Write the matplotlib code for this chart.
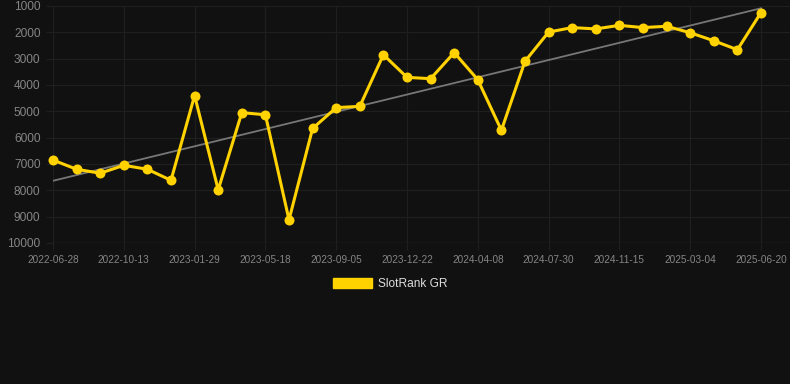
import matplotlib
matplotlib.use("Agg")
import matplotlib.pyplot as plt
import matplotlib.patches as mpatches
import numpy as np

# SlotRank GR position over time (lower is better, axis inverted)
ranks = [6850, 7200, 7350, 7050, 7200, 7620, 4400, 7980, 5050, 5130,
         9120, 5650, 4860, 4810, 2850, 3710, 3760, 2770, 3800, 5720,
         3100, 1990, 1820, 1870, 1735, 1820, 1770, 2015, 2320, 2660, 1250]
# only every third date is labelled on the axis
tick_labels = ["2022-06-28", "2022-10-13", "2023-01-29", "2023-05-18",
               "2023-09-05", "2023-12-22", "2024-04-08", "2024-07-30",
               "2024-11-15", "2025-03-04", "2025-06-20"]
y_ticks = [1000, 2000, 3000, 4000, 5000, 6000, 7000, 8000, 9000, 10000]

bg = "#111111"
grid_col = "#1f1f1f"
yellow = "#FFD200"

plt.rcParams['font.family'] = ['Liberation Sans', 'DejaVu Sans']

fig = plt.figure(figsize=(7.9, 3.84), dpi=100, facecolor=bg)
ax = fig.add_axes([53 / 790, 1 - 243 / 384, 1 - 53 / 790, (243 - 6) / 384])
ax.set_facecolor(bg)

x = np.arange(len(ranks))

# linear trend
k, b = np.polyfit(x, ranks, 1)
ax.plot(x[[0, -1]], k * x[[0, -1]] + b, color="#777777", lw=1.3, zorder=2)

ax.plot(x, ranks, color=yellow, lw=2.2, marker="o", markersize=7.2,
        markeredgewidth=0, zorder=3, clip_on=False)

ax.set_ylim(10000, 1000)
ax.set_yticks(y_ticks)
ax.set_yticklabels([str(v) for v in y_ticks])
ax.set_xlim(0, 30 + 29 / 23.6)
ax.set_xticks(x[::3])
ax.set_xticklabels(tick_labels)

ax.grid(True, color=grid_col, lw=0.9)
ax.set_axisbelow(True)
for s in ax.spines.values():
    s.set_visible(False)
ax.tick_params(axis="y", colors=grid_col, length=5, width=0.9, labelcolor="#858585",
               labelsize=8.6, pad=4)
ax.tick_params(axis="x", colors=grid_col, length=5, width=0.9, labelcolor="#858585",
               labelsize=7.2, pad=3.5)
ax.axhline(10000, color="#282828", lw=1.0, zorder=1)

handle = mpatches.Patch(color=yellow, label="SlotRank GR")
fig.legend(handles=[handle], loc="center", bbox_to_anchor=(390 / 790, 1 - 284 / 384),
           frameon=False, fontsize=8.6, labelcolor="#dddddd",
           handlelength=3.3, handleheight=0.95, handletextpad=0.5)

fig.savefig("out.png", dpi=100, facecolor=bg)
